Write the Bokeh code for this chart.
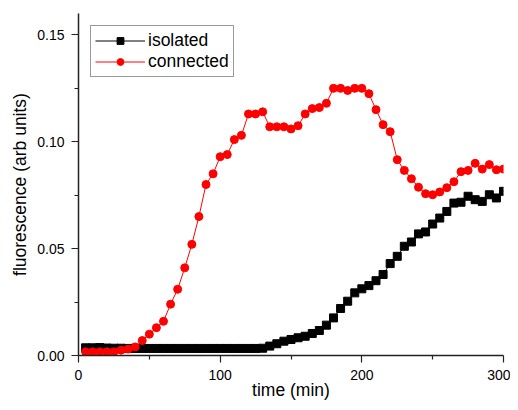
from bokeh.plotting import figure
from bokeh.models import FixedTicker, NumeralTickFormatter, Range1d
from bokeh.embed import file_html
from bokeh.resources import INLINE

time = list(range(5, 305, 5))

isolated = [0.0036, 0.0036, 0.0037, 0.0035, 0.0034, 0.0034, 0.0033, 0.0033, 0.0033, 0.0033,
            0.0033, 0.0033, 0.0033, 0.0033, 0.0033, 0.0033, 0.0033, 0.0033, 0.0033, 0.0033,
            0.0033, 0.0033, 0.0033, 0.0033, 0.0033, 0.0034,
            0.0044, 0.0055, 0.0067, 0.0075, 0.0083, 0.0090, 0.0103, 0.0117, 0.0142, 0.0176,
            0.0220, 0.0254, 0.0293, 0.0312, 0.0327, 0.0350, 0.0379, 0.0430, 0.0464, 0.0511,
            0.0531, 0.0569, 0.0578, 0.0615, 0.0643, 0.0674, 0.0713, 0.0717, 0.0745, 0.0729,
            0.0721, 0.0752, 0.0737, 0.0768]

connected = [0.0017, 0.0017, 0.0017, 0.0017, 0.0017, 0.0025, 0.0030, 0.0040, 0.0070, 0.0100,
             0.0130, 0.0160, 0.0240, 0.0310, 0.0410, 0.0520, 0.0650, 0.0800, 0.0850, 0.0930,
             0.0940, 0.1010, 0.1030, 0.1130, 0.1130, 0.1140, 0.1070, 0.1070, 0.1070, 0.1060,
             0.1075, 0.1130, 0.1155, 0.1160, 0.1180, 0.1250, 0.1250, 0.1240, 0.1250, 0.1250,
             0.1225, 0.1150, 0.1080, 0.1047, 0.0916, 0.0866, 0.0827, 0.0787, 0.0757, 0.0752,
             0.0765, 0.0785, 0.0813, 0.0860, 0.0866, 0.0899, 0.0872, 0.0893, 0.0869, 0.0872]

x_ticks = [0, 100, 200, 300]
x_minor = [50, 150, 250]
y_ticks = [0.0, 0.05, 0.10, 0.15]
y_minor = [0.025, 0.075, 0.125]

FONT = "Liberation Sans"

p = figure(width=510, height=402, output_backend="svg", toolbar_location=None,
           x_range=Range1d(0, 300), y_range=Range1d(0, 0.16),
           min_border_left=78, min_border_right=7, min_border_top=13, min_border_bottom=46)
p.outline_line_color = None
p.grid.visible = False
p.background_fill_color = "white"
p.border_fill_color = "white"

p.line(time, isolated, line_color="black", line_width=1, legend_label="isolated")
p.scatter(time, isolated, marker="square", size=8, fill_color="black", line_color="black",
          legend_label="isolated")
p.line(time, connected, line_color="red", line_width=1, legend_label="connected")
p.scatter(time, connected, marker="circle", size=8, fill_color="red", line_color="red",
          legend_label="connected")

p.xaxis.ticker = FixedTicker(ticks=x_ticks, minor_ticks=x_minor)
p.yaxis.ticker = FixedTicker(ticks=y_ticks, minor_ticks=y_minor)
p.yaxis.formatter = NumeralTickFormatter(format="0.00")
p.xaxis.axis_label = "time (min)"
p.yaxis.axis_label = "fluorescence (arb units)"

for ax in (p.xaxis, p.yaxis):
    ax.axis_line_color = "#222222"
    ax.axis_line_width = 1.5
    ax.major_tick_line_color = "#222222"
    ax.minor_tick_line_color = "#222222"
    ax.major_tick_line_width = 1.2
    ax.minor_tick_line_width = 1.2
    ax.major_tick_in = 0
    ax.major_tick_out = 7
    ax.minor_tick_in = 0
    ax.minor_tick_out = 4
    ax.major_label_text_font = FONT
    ax.major_label_text_font_size = "14px"
    ax.major_label_text_color = "black"
    ax.major_label_standoff = 7
    ax.axis_label_text_font = FONT
    ax.axis_label_text_font_size = "17.5px"
    ax.axis_label_text_font_style = "normal"
    ax.axis_label_text_color = "black"

p.xaxis.axis_label_standoff = -3
p.yaxis.axis_label_standoff = 4

lg = p.legend[0]
lg.location = "top_left"
lg.margin = 12
lg.padding = 4
lg.spacing = 0
lg.glyph_width = 50
lg.glyph_height = 17
lg.label_height = 17
lg.label_standoff = 3
lg.label_text_font = FONT
lg.label_text_font_size = "17.5px"
lg.label_text_color = "black"
lg.border_line_color = "#333333"
lg.border_line_width = 1
lg.background_fill_alpha = 1.0

open("out.html", "w").write(file_html(p, INLINE))
